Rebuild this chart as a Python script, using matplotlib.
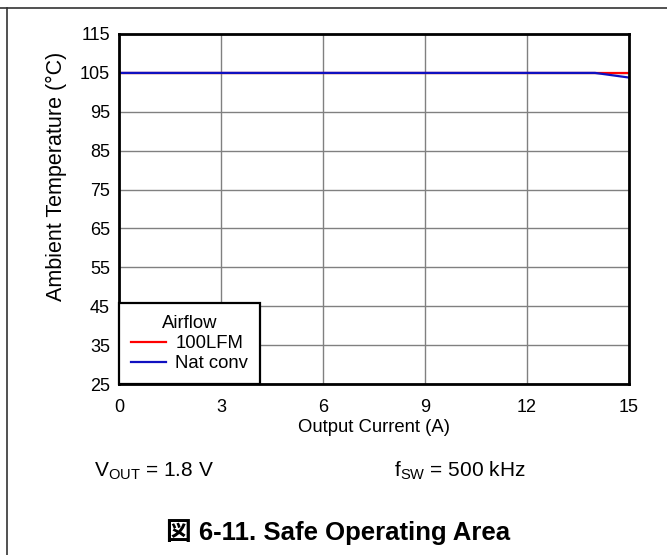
import matplotlib.pyplot as plt
from matplotlib.lines import Line2D

# data
current = [0, 3, 6, 9, 12, 14, 15]
temp_100lfm = [105, 105, 105, 105, 105, 105, 105]
temp_natconv = [105, 105, 105, 105, 105, 105, 103.8]

xticks = [0, 3, 6, 9, 12, 15]
yticks = [25, 35, 45, 55, 65, 75, 85, 95, 105, 115]

plt.rcParams['font.family'] = ['Liberation Sans', 'Noto Sans CJK JP']

W, H = 667, 555
fig = plt.figure(figsize=(6.67, 5.55), dpi=100)
ax = fig.add_axes([119 / W, 1 - 384 / H, 510 / W, 350 / H])

ax.plot(current, temp_100lfm, color='#ff0000', lw=1.6, label='100LFM')
ax.plot(current, temp_natconv, color='#1010c0', lw=1.6, label='Nat conv')

ax.set_xlim(0, 15)
ax.set_ylim(25, 115)
ax.set_xticks(xticks)
ax.set_yticks(yticks)
ax.tick_params(axis='x', length=0, labelsize=13, pad=11)
ax.tick_params(axis='y', length=0, labelsize=13, pad=6.5)
ax.grid(True, color='#808080', lw=1)
for s in ax.spines.values():
    s.set_linewidth(2)
    s.set_color('black')

ax.set_xlabel('Output Current (A)', fontsize=13.3, labelpad=2)
ax.set_ylabel('Ambient Temperature (°C)', fontsize=15.5)
ax.yaxis.set_label_coords((67 - 119) / 510, (384 - 176) / 350)

leg = ax.legend(title='Airflow', loc='lower left', fontsize=13.3, title_fontsize=13.3,
                fancybox=False, borderaxespad=0, handlelength=1.9, handletextpad=0.5,
                labelspacing=0.15, borderpad=0.65, framealpha=1)
leg.get_frame().set_edgecolor('black')
leg.get_frame().set_linewidth(1.6)

fig.text(94 / W, 1 - 471 / H, r'V$_{\mathregular{OUT}}$ = 1.8 V', fontsize=15, va='center')
fig.text(394 / W, 1 - 471 / H, r'f$_{\mathregular{SW}}$ = 500 kHz', fontsize=15, va='center')
fig.text(338.5 / W, 1 - 532 / H, '図 6-11. Safe Operating Area', fontsize=18.5,
         fontweight='bold', ha='center', va='center')

# outer frame (top and left edges only)
fig.add_artist(Line2D([0, 1], [1 - 8 / H, 1 - 8 / H], color='#333333', lw=1.2,
                      transform=fig.transFigure))
fig.add_artist(Line2D([7 / W, 7 / W], [0, 1 - 8 / H], color='#333333', lw=1.2,
                      transform=fig.transFigure))

fig.savefig('out.png', dpi=100)
